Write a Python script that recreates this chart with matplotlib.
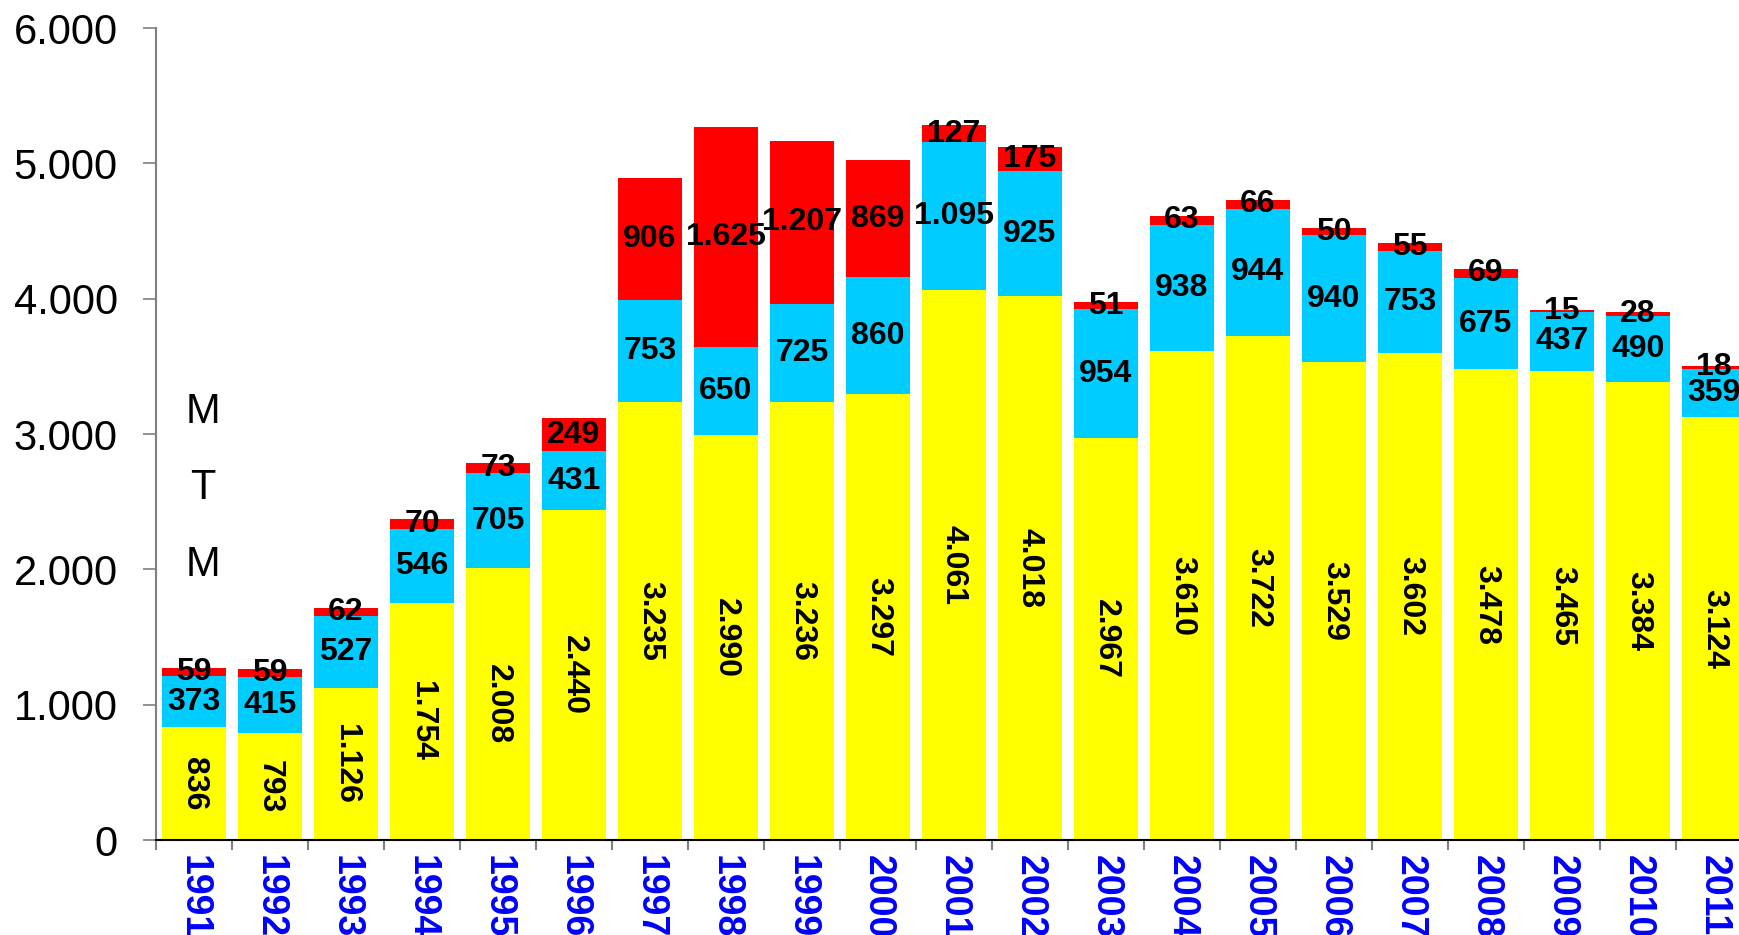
import numpy as np
import matplotlib
matplotlib.use('Agg')
import matplotlib.pyplot as plt
from matplotlib.ticker import FuncFormatter

plt.rcParams['font.family'] = ['Liberation Sans', 'DejaVu Sans']

# data
years = ['1991', '1992', '1993', '1994', '1995', '1996', '1997', '1998', '1999', '2000',
         '2001', '2002', '2003', '2004', '2005', '2006', '2007', '2008', '2009', '2010', '2011']
yellow = [836, 793, 1126, 1754, 2008, 2440, 3235, 2990, 3236, 3297,
          4061, 4018, 2967, 3610, 3722, 3529, 3602, 3478, 3465, 3384, 3124]
cyan = [373, 415, 527, 546, 705, 431, 753, 650, 725, 860,
        1095, 925, 954, 938, 944, 940, 753, 675, 437, 490, 359]
red = [59, 59, 62, 70, 73, 249, 906, 1625, 1207, 869,
       127, 175, 51, 63, 66, 50, 55, 69, 15, 28, 18]


def dotted(v):
    return f"{int(v):,}".replace(',', '.')


fig = plt.figure(figsize=(17.4, 9.35), dpi=100)
ax = fig.add_axes([156 / 1740, 95 / 935, 1596 / 1740, 812 / 935])

x = np.arange(len(years))
yellow = np.array(yellow)
cyan = np.array(cyan)
red = np.array(red)

w = 0.83
b1 = ax.bar(x, yellow, w, color='#FFFF00')
b2 = ax.bar(x, cyan, w, bottom=yellow, color='#00CCFF')
b3 = ax.bar(x, red, w, bottom=yellow + cyan, color='#FF0000')

lab = dict(fontsize=23, fontweight='bold', color='black')
ax.bar_label(b1, labels=[dotted(v) for v in yellow], label_type='center', rotation=-90, **lab)
ax.bar_label(b2, labels=[dotted(v) for v in cyan], label_type='center', **lab)
ax.bar_label(b3, labels=[dotted(v) for v in red], label_type='center', **lab)

ax.set_xlim(-0.5, len(years) - 0.5)
ax.set_ylim(0, 6000)
ax.set_yticks(np.arange(0, 6001, 1000))
ax.yaxis.set_major_formatter(FuncFormatter(lambda v, p: dotted(v)))

# ticks between categories, labels at category centres
ax.set_xticks(np.arange(-0.5, len(years), 1))
ax.set_xticklabels([])
ax.set_xticks(x, minor=True)
ax.set_xticklabels(years, minor=True, rotation=-90, va='top', ha='center',
                   fontsize=27, fontweight='bold', color='#0000FF')
ax.tick_params(axis='x', which='major', direction='out', length=7.5, width=1.5, color='#808080')
ax.tick_params(axis='x', which='minor', length=0, pad=11)
ax.tick_params(axis='y', direction='out', length=9.5, width=1.2, color='#808080',
               labelsize=30, pad=18)

for s in ['top', 'right']:
    ax.spines[s].set_visible(False)
ax.spines['left'].set_color('#808080')
ax.spines['left'].set_linewidth(1.5)
ax.spines['bottom'].set_color('black')
ax.spines['bottom'].set_linewidth(1.5)

for txt, ypix in [('M', 412), ('T', 488), ('M', 565)]:
    fig.text(203 / 1740, 1 - ypix / 935, txt, fontsize=30, ha='center', va='center')

fig.savefig('out.png', dpi=100)
